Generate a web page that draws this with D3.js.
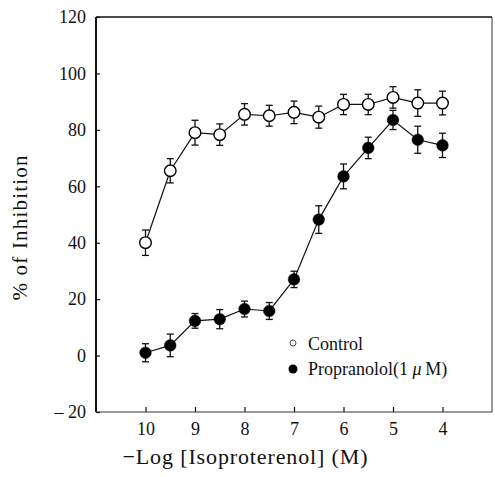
<!DOCTYPE html>
<html>
<head>
<meta charset="utf-8">
<script src="https://cdn.jsdelivr.net/npm/d3@7"></script>
<style>
  body { margin: 0; background: #fff; }
  svg { display: block; font-family: "Liberation Serif", "DejaVu Serif", serif; }
</style>
</head>
<body>
<svg id="chart" width="495" height="477"></svg>
<script>
// -log concentrations on the x axis
var doses = [10, 9.5, 9, 8.5, 8, 7.5, 7, 6.5, 6, 5.5, 5, 4.5, 4];
var controlValues = [40, 65.5, 79, 78.3, 85.5, 85, 86.2, 84.5, 89, 89, 91.5, 89.5, 89.5];
var controlErrors = [4.5, 4.3, 4.4, 3.8, 3.8, 3.7, 4, 3.9, 3.6, 3.6, 3.8, 4.7, 4.2];
var propranololValues = [1, 3.6, 12.3, 12.9, 16.5, 15.8, 27, 48.2, 63.5, 73.6, 83.5, 76.5, 74.5];
var propranololErrors = [3.2, 4, 2.6, 3.4, 2.8, 3, 2.9, 4.9, 4.4, 3.8, 3.4, 4.8, 4.3];
var xTicks = [10, 9, 8, 7, 6, 5, 4];
var yTicks = [-20, 0, 20, 40, 60, 80, 100, 120];

var svg = d3.select('#chart');
var margin = {top: 17, right: 3, bottom: 65, left: 96};
var width = 495 - margin.left - margin.right;
var height = 477 - margin.top - margin.bottom;

var g = svg.append('g')
  .attr('transform', 'translate(' + margin.left + ',' + margin.top + ')');

var x = d3.scaleLinear().domain([11, 3]).range([0, width]);
var y = d3.scaleLinear().domain([-20, 120]).range([height, 0]);

// axes, ticks pointing inwards
var yAxis = g.append('g')
  .call(d3.axisLeft(y).tickValues(yTicks).tickSizeInner(-4).tickSizeOuter(0).tickPadding(10)
    .tickFormat(function(d) { return d < 0 ? '\u2013 ' + Math.abs(d) : d; }));
var xAxis = g.append('g')
  .attr('transform', 'translate(0,' + height + ')')
  .call(d3.axisBottom(x).tickValues(xTicks).tickSizeInner(-5).tickSizeOuter(0).tickPadding(10));

[xAxis, yAxis].forEach(function(a) {
  a.select('.domain').remove();
  a.selectAll('line').attr('stroke', '#111').attr('stroke-width', 1.2);
  a.selectAll('text').attr('font-size', 18).attr('fill', '#111')
    .attr('font-family', '"Liberation Serif", serif');
});

// frame
g.append('line').attr('x1', 0).attr('x2', width).attr('y1', 0).attr('y2', 0)
  .attr('stroke', '#111').attr('stroke-width', 1.6);
g.append('line').attr('x1', 0).attr('x2', 0).attr('y1', 0).attr('y2', height)
  .attr('stroke', '#111').attr('stroke-width', 2);
g.append('line').attr('x1', width).attr('x2', width).attr('y1', 0).attr('y2', height)
  .attr('stroke', '#333').attr('stroke-width', 1);
g.append('line').attr('x1', 0).attr('x2', width).attr('y1', height).attr('y2', height)
  .attr('stroke', '#333').attr('stroke-width', 1);

function drawSeries(values, errors, filled) {
  var pts = doses.map(function(d, i) { return {x: d, y: values[i], e: errors[i]}; });

  var line = d3.line()
    .x(function(d) { return x(d.x); })
    .y(function(d) { return y(d.y); });

  g.append('path').datum(pts)
    .attr('d', line)
    .attr('fill', 'none')
    .attr('stroke', '#111')
    .attr('stroke-width', 1.2);

  var err = g.append('g').selectAll('g').data(pts).enter().append('g')
    .attr('stroke', '#111').attr('stroke-width', 1.3);
  err.append('line')
    .attr('x1', function(d) { return x(d.x); })
    .attr('x2', function(d) { return x(d.x); })
    .attr('y1', function(d) { return y(d.y + d.e); })
    .attr('y2', function(d) { return y(d.y - d.e); });
  err.append('line')
    .attr('x1', function(d) { return x(d.x) - 3.5; })
    .attr('x2', function(d) { return x(d.x) + 3.5; })
    .attr('y1', function(d) { return y(d.y + d.e); })
    .attr('y2', function(d) { return y(d.y + d.e); });
  err.append('line')
    .attr('x1', function(d) { return x(d.x) - 3.5; })
    .attr('x2', function(d) { return x(d.x) + 3.5; })
    .attr('y1', function(d) { return y(d.y - d.e); })
    .attr('y2', function(d) { return y(d.y - d.e); });

  g.append('g').selectAll('circle').data(pts).enter().append('circle')
    .attr('cx', function(d) { return x(d.x); })
    .attr('cy', function(d) { return y(d.y); })
    .attr('r', 5.8)
    .attr('fill', filled ? '#000' : '#fff')
    .attr('stroke', '#000')
    .attr('stroke-width', filled ? 0.5 : 1.4);
}

drawSeries(controlValues, controlErrors, false);
drawSeries(propranololValues, propranololErrors, true);

// legend
var legend = svg.append('g').attr('font-size', 18).attr('fill', '#111');
legend.append('circle').attr('cx', 293).attr('cy', 343).attr('r', 3)
  .attr('fill', '#fff').attr('stroke', '#555').attr('stroke-width', 1);
legend.append('text').attr('x', 308).attr('y', 350).text('Control');
legend.append('circle').attr('cx', 293).attr('cy', 369).attr('r', 4.5).attr('fill', '#000');
var t2 = legend.append('text').attr('x', 308).attr('y', 375);
t2.append('tspan').text('Propranolol(1 ');
t2.append('tspan').attr('font-style', 'italic').text('\u03bc');
t2.append('tspan').text('\u2009M)');

// axis titles
svg.append('text')
  .attr('x', 245).attr('y', 464)
  .attr('text-anchor', 'middle')
  .attr('font-size', 22)
  .attr('fill', '#111')
  .attr('textLength', 245)
  .attr('lengthAdjust', 'spacing')
  .text('\u2212Log [Isoproterenol] (M)');

svg.append('text')
  .attr('transform', 'translate(27,228) rotate(-90)')
  .attr('text-anchor', 'middle')
  .attr('font-size', 21)
  .attr('fill', '#111')
  .attr('textLength', 145)
  .attr('lengthAdjust', 'spacing')
  .text('% of Inhibition');
</script>
</body>
</html>
